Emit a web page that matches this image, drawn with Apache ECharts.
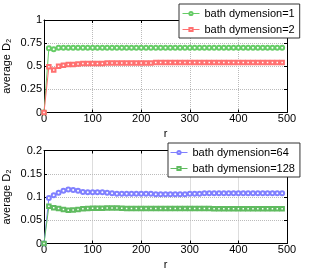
<!DOCTYPE html>
<html><head><meta charset="utf-8">
<script src="https://cdn.jsdelivr.net/npm/echarts@6/dist/echarts.min.js"></script>
<style>html,body{margin:0;padding:0;background:#fff}#c{width:318px;height:276px}</style>
</head><body><div id="c"></div>
<script>
const r = [0,10,20,30,40,50,60,70,80,90,100,110,120,130,140,150,160,170,180,190,200,210,220,230,240,250,260,270,280,290,300,310,320,330,340,350,360,370,380,390,400,410,420,430,440,450,460,470,480,490];
const dim1 = [0,0.695,0.685,0.70,0.70,0.70,0.70,0.70,0.70,0.70,0.70,0.70,0.70,0.70,0.70,0.70,0.70,0.70,0.70,0.70,0.70,0.70,0.70,0.70,0.70,0.70,0.70,0.70,0.70,0.70,0.70,0.70,0.70,0.70,0.70,0.70,0.70,0.70,0.70,0.70,0.70,0.70,0.70,0.70,0.70,0.70,0.70,0.70,0.70,0.70];
const dim2 = [0,0.495,0.46,0.50,0.51,0.52,0.52,0.525,0.53,0.53,0.53,0.53,0.53,0.535,0.535,0.535,0.535,0.535,0.535,0.535,0.535,0.535,0.535,0.54,0.54,0.54,0.54,0.54,0.54,0.54,0.54,0.54,0.54,0.54,0.54,0.54,0.54,0.54,0.54,0.54,0.54,0.54,0.54,0.54,0.54,0.54,0.54,0.54,0.54,0.54];
const dim64 = [0,0.098,0.104,0.109,0.1135,0.116,0.115,0.1135,0.111,0.110,0.110,0.110,0.110,0.109,0.108,0.107,0.107,0.107,0.107,0.107,0.107,0.107,0.107,0.106,0.106,0.106,0.106,0.106,0.106,0.106,0.107,0.107,0.107,0.108,0.108,0.108,0.108,0.108,0.108,0.108,0.108,0.108,0.108,0.108,0.108,0.108,0.108,0.108,0.108,0.108];
const dim128 = [0,0.080,0.077,0.0755,0.073,0.0715,0.072,0.073,0.075,0.0755,0.076,0.076,0.076,0.0765,0.0765,0.0765,0.076,0.0755,0.0755,0.0755,0.0755,0.0755,0.0755,0.0755,0.0755,0.0755,0.0755,0.0755,0.0755,0.0755,0.0755,0.0755,0.0755,0.0755,0.0755,0.075,0.075,0.075,0.075,0.075,0.075,0.075,0.075,0.075,0.075,0.075,0.075,0.0745,0.0745,0.0745];
const names = ['bath dymension=1','bath dymension=2','bath dymension=64','bath dymension=128'];
const colors = ['#66cc66','#ff7070','#8080ff','#60bb60'];

const font = '"Liberation Sans", Arial, sans-serif';
const chart = echarts.init(document.getElementById('c'));
function pair(data){ return r.map((x,i)=>[x,data[i]]); }
function xAx(grid, show){
  return {type:'value', gridIndex:grid, min:0, max:500, interval:100,
    position: show ? 'bottom' : 'top',
    name: show ? 'r' : '', nameLocation:'middle', nameGap:16, nameMoveOverlap:false,
    nameTextStyle:{fontFamily:font, fontSize:11, color:'#000'},
    axisLine:{show:true, onZero:false, lineStyle:{color:'#000', width:1}},
    axisTick:{show:true, inside:true, length:3, lineStyle:{color:'#000'}},
    axisLabel:{show:show, fontFamily:font, fontSize:11, color:'#000', margin:1},
    splitLine:{show:show, lineStyle:{type:'dotted', color:'#bbb'}}};
}
function yAx(grid, max, interval, show){
  return {type:'value', gridIndex:grid, min:0, max:max, interval:interval,
    position: show ? 'left' : 'right',
    name: show ? 'average D\u2082' : '', nameLocation:'middle', nameGap:32, nameRotate:90,
    nameMoveOverlap:false,
    nameTextStyle:{fontFamily:font, fontSize:11, color:'#000'},
    axisLine:{show:true, onZero:false, lineStyle:{color:'#000', width:1}},
    axisTick:{show:true, inside:true, length:3, lineStyle:{color:'#000'}},
    axisLabel:{show:show, fontFamily:font, fontSize:11, color:'#000', margin:2},
    splitLine:{show:show, lineStyle:{type:'dotted', color:'#bbb'}}};
}
function ser(i, data, x, y, sym, size){
  return {name:names[i], type:'line', xAxisIndex:x, yAxisIndex:y, data:pair(data),
    symbol:sym, symbolSize:size, showSymbol:true,
    lineStyle:{color:colors[i], width:1}, itemStyle:{color:colors[i], borderWidth:0.8},
    z:3};
}
const legendBase = {orient:'vertical', itemGap:5, itemWidth:17, itemHeight:4,
  borderColor:'#333', borderWidth:1, backgroundColor:'#fff',
  lineStyle:{width:1}, itemStyle:{borderWidth:0.8},
  textStyle:{fontFamily:font, fontSize:11, color:'#000'}};
chart.setOption({
  animation:false,
  grid:[{left:44, right:31, top:20, height:92.5, outerBoundsMode:'none', containLabel:false},
        {left:44, right:31, top:150.5, height:93, outerBoundsMode:'none', containLabel:false}],
  xAxis:[xAx(0,true), xAx(0,false), xAx(1,true), xAx(1,false)],
  yAxis:[yAx(0,1,0.25,true), yAx(0,1,0.25,false), yAx(1,0.2,0.05,true), yAx(1,0.2,0.05,false)],
  legend:[
    Object.assign({}, legendBase, {data:names.slice(0,2), left:179, top:4, padding:[4,5,3,3]}),
    Object.assign({}, legendBase, {data:names.slice(2,4), left:168, top:143, padding:[4,5,3,2]})
  ],
  series:[
    ser(0, dim1, 0, 0, 'emptyCircle', 4),
    ser(1, dim2, 0, 0, 'emptyRect', 3.5),
    ser(2, dim64, 2, 2, 'emptyCircle', 4),
    ser(3, dim128, 2, 2, 'emptyRect', 3.5)
  ]
});
</script></body></html>
